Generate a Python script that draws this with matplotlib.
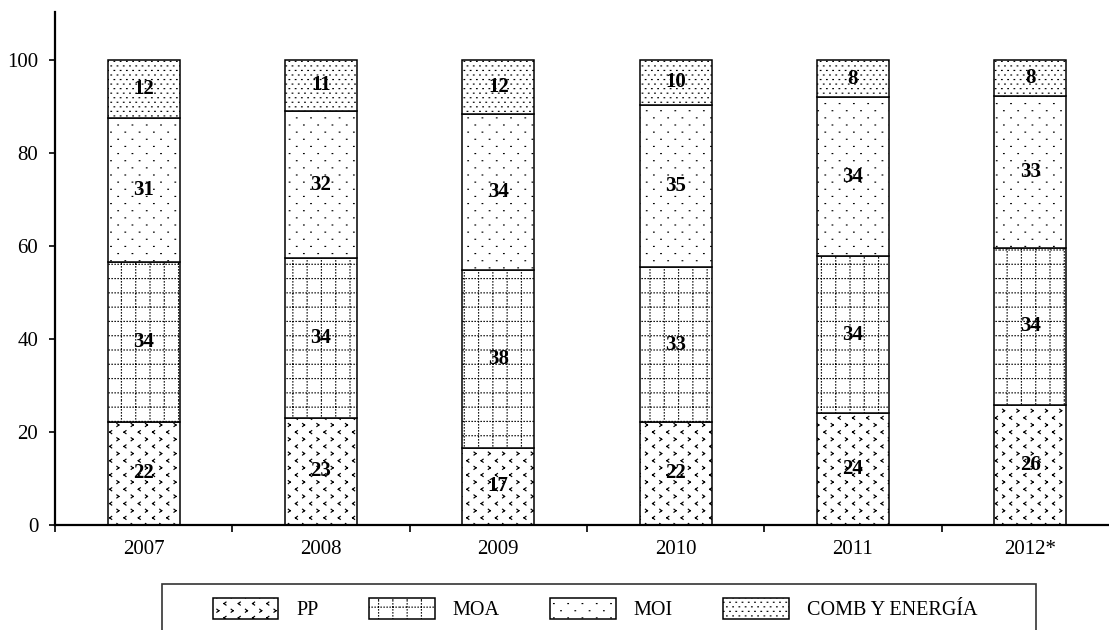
import warnings
import numpy as np
import matplotlib
matplotlib.use('Agg')
import matplotlib.pyplot as plt
import matplotlib.hatch as mhatch
from matplotlib.path import Path
from matplotlib.patches import Rectangle

warnings.filterwarnings('ignore')

years = ['2007', '2008', '2009', '2010', '2011', '2012*']
pp = [22.2, 23.1, 16.6, 22.2, 24.1, 25.8]
moa = [34.4, 34.3, 38.2, 33.2, 33.7, 33.8]
moi = [31.0, 31.6, 33.6, 35.0, 34.2, 32.6]
comb = [12.4, 11.0, 11.6, 9.6, 8.0, 7.8]
series = ['PP', 'MOA', 'MOI', 'COMB Y ENERGÍA']


# --- hatch textures (excel-like fills), built as short segments in a unit tile
def dot_grid(rows, cols, d=0.006):
    segs = []
    for r in range(rows):
        off = 0.5 / cols if r % 2 else 0.0
        y = (r + 0.5) / rows
        for c in range(cols):
            x = c / cols + off + 0.25 / cols
            segs.append([[x, y], [x + d, y]])
    return segs


def chevrons(rows, cols, w=0.02, h=0.03):
    segs = []
    for r in range(rows):
        off = 0.5 / cols if r % 2 else 0.0
        y = (r + 0.5) / rows
        s = 1 if r % 2 == 0 else -1
        for c in range(cols):
            x = c / cols + off + 0.25 / cols
            segs.append([[x - s * w / 2, y + h / 2], [x + s * w / 2, y]])
            segs.append([[x + s * w / 2, y], [x - s * w / 2, y - h / 2]])
    return segs


def dotted_grid(n, step=0.03, d=0.003):
    segs = []
    for i in range(n):
        p = (i + 0.5) / n
        for t in np.arange(0, 1, step):
            segs.append([[p, t], [p, t + d]])
            segs.append([[t, p], [t + d, p]])
    return segs


TEXTURES = {
    'p': chevrons(14, 7),
    'm': dotted_grid(7),
    'i': dot_grid(14, 7),
    'c': dot_grid(22, 16),
}


class TextureHatch(mhatch.HatchPatternBase):
    def __init__(self, hatch, density):
        self.segs = []
        for k, v in TEXTURES.items():
            if k in hatch:
                self.segs += v
        self.num_vertices = 2 * len(self.segs)

    def set_vertices_and_codes(self, vertices, codes):
        vertices[:] = np.array(self.segs).reshape(-1, 2)
        codes[0::2] = Path.MOVETO
        codes[1::2] = Path.LINETO


mhatch._hatch_types.append(TextureHatch)

plt.rcParams['font.family'] = 'Liberation Serif'
plt.rcParams['hatch.linewidth'] = 0.85
plt.rcParams['hatch.color'] = 'black'

fig = plt.figure(figsize=(11.09, 6.30), dpi=100)
ax = fig.add_axes([55 / 1109, 105 / 630, 6 * 177.3 / 1109, 513 / 630])

x = np.arange(len(years))
width = 0.406
bottom = np.zeros(len(years))
hatches = ['p', 'm', 'i', 'c']
for vals, name, h in zip([pp, moa, moi, comb], series, hatches):
    vals = np.array(vals)
    ax.bar(x, vals, width, bottom=bottom, color='white', edgecolor='black',
           linewidth=1.1, hatch=h, label=name)
    for xi, b, v in zip(x, bottom, vals):
        ax.text(xi, b + v / 2, '%d' % round(v), ha='center', va='center',
                fontsize=15, fontweight='bold')
    bottom += vals

ax.set_xlim(-0.5, 5.5)
ax.set_ylim(0, 110.3)
ax.set_yticks([0, 20, 40, 60, 80, 100])
ax.tick_params(axis='y', direction='out', length=4, width=1.2, pad=8, labelsize=15)
ax.set_xticks(np.arange(-0.5, 6, 1))
ax.set_xticklabels([])
ax.tick_params(axis='x', which='major', direction='out', length=5, width=1.2)
ax.set_xticks(x, minor=True)
ax.set_xticklabels(years, minor=True)
ax.tick_params(axis='x', which='minor', length=0, pad=11, labelsize=15)
for s in ['top', 'right']:
    ax.spines[s].set_visible(False)
for s in ['left', 'bottom']:
    ax.spines[s].set_linewidth(1.6)

fig.patches.append(Rectangle((162 / 1109, -10 / 630), 874 / 1109, 56 / 630,
                             transform=fig.transFigure, facecolor='none',
                             edgecolor='#333333', linewidth=1.2))
fig.legend(loc='upper left', bbox_to_anchor=(213 / 1109, 1 - 598 / 630),
           ncol=4, frameon=False, fontsize=14.5, handlelength=3.25,
           handleheight=1.2, handletextpad=0.9, columnspacing=2.5,
           borderpad=0, borderaxespad=0)

fig.savefig('out.png', dpi=100)
